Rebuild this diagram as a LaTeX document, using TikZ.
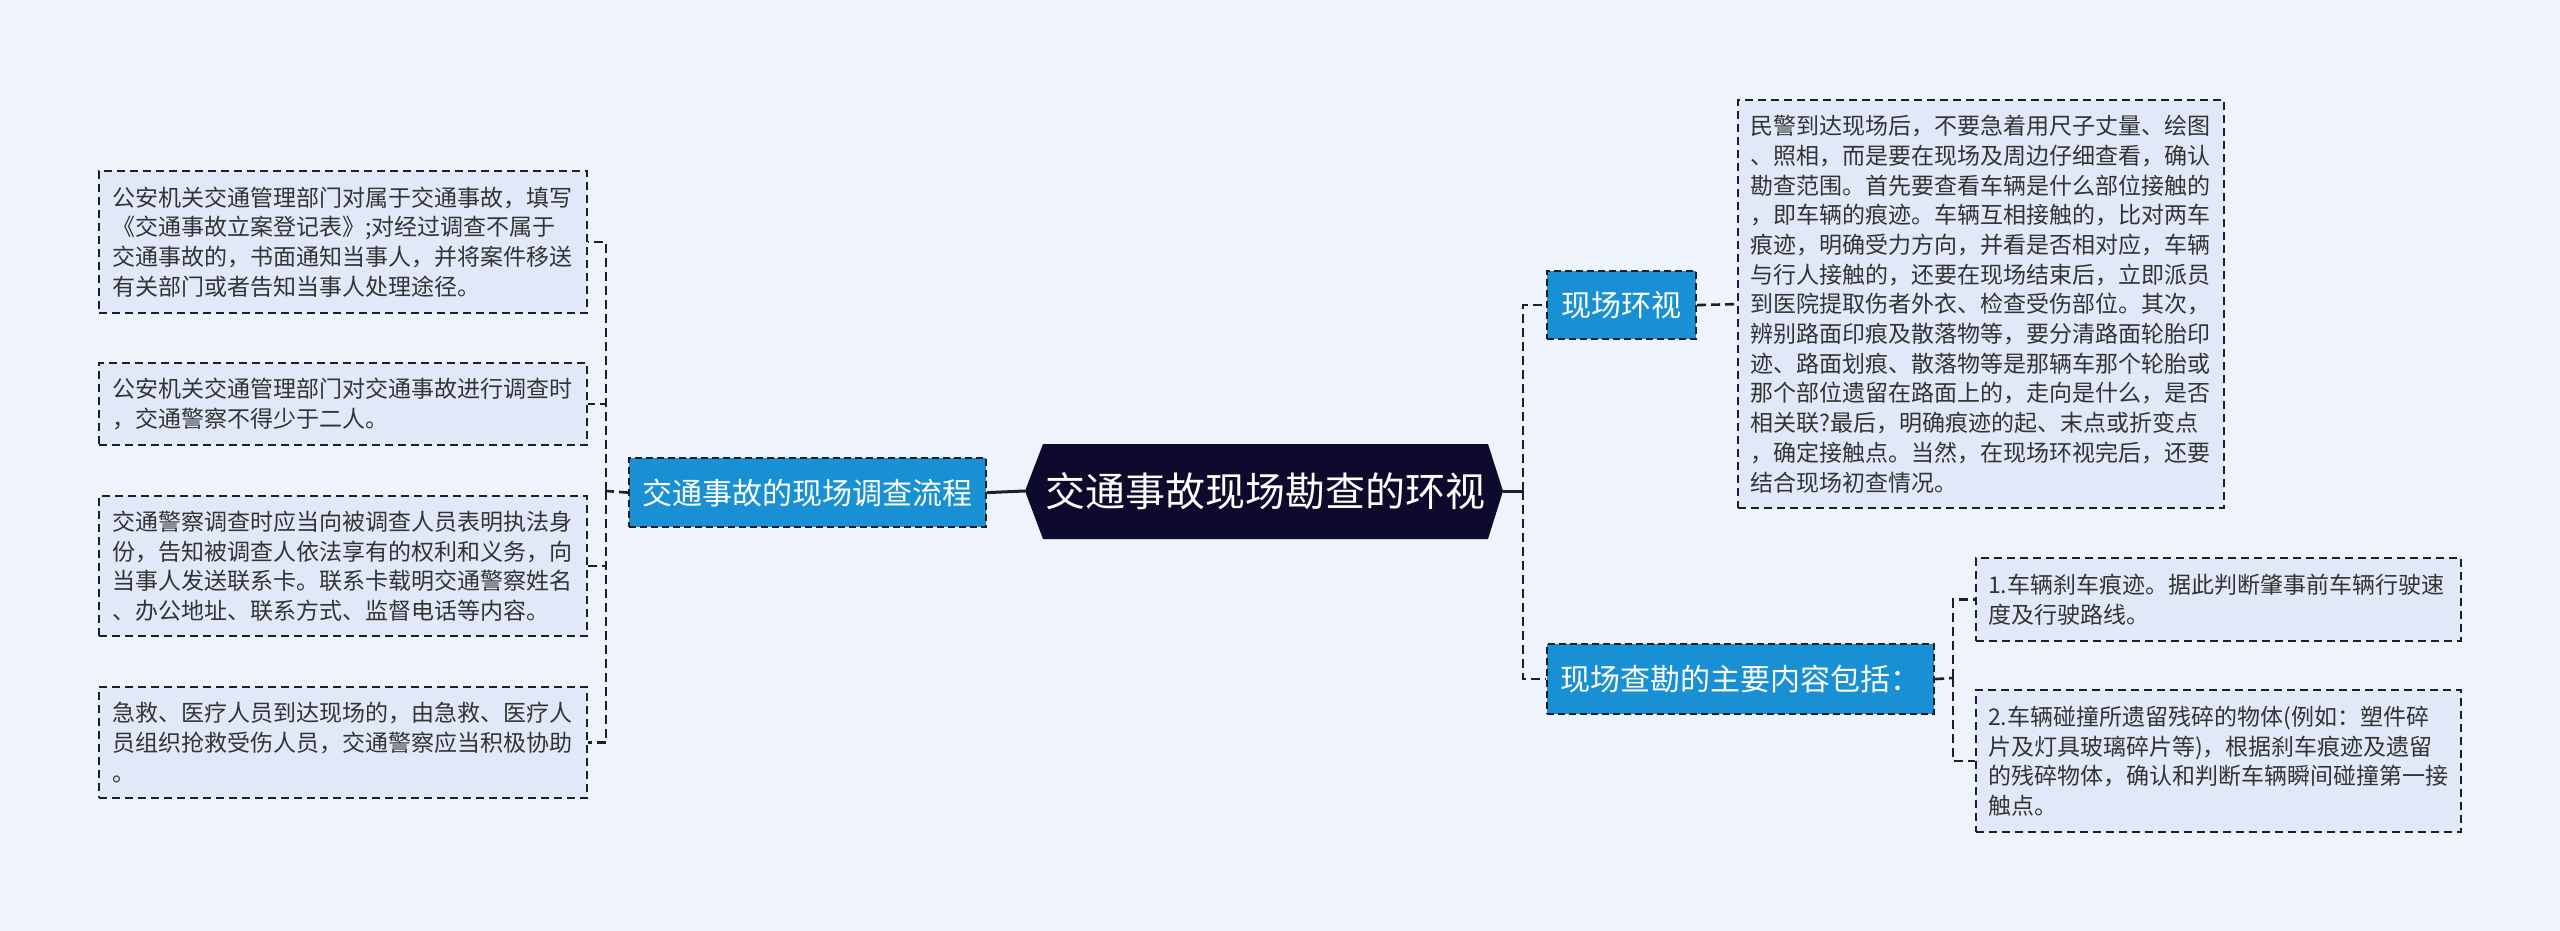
\documentclass[tikz,border=0pt]{standalone}
\usepackage{fontspec}
\newfontfamily\cjk{Noto Sans CJK SC}
\definecolor{bg}{HTML}{EEF3FC}
\definecolor{leaffill}{HTML}{E1E9F9}
\definecolor{branchfill}{HTML}{1890D3}
\definecolor{navy}{HTML}{0D0A2D}
\definecolor{dk}{HTML}{1E1E2A}
\definecolor{txt}{HTML}{333333}
\begin{document}
\begin{tikzpicture}[x=1pt,y=-1pt,
  dline/.style={draw=dk,line width=2.6pt,dash pattern=on 9pt off 5pt},
  sline/.style={draw=dk,line width=3pt},
  leaf/.style={draw=dk,line width=2.2pt,dash pattern=on 8pt off 5pt,fill=leaffill,text=txt,
    font=\cjk\fontsize{23}{29.7}\selectfont,align=left,inner xsep=13pt,inner ysep=0pt,anchor=north west},
  branch/.style={draw=dk,line width=2.2pt,dash pattern=on 7pt off 4pt,fill=branchfill,text=white,
    font=\cjk\fontsize{30}{36}\selectfont,inner sep=0pt,anchor=north west},
  ctext/.style={text=white,font=\cjk\fontsize{40}{48}\selectfont,inner sep=0pt}
]
\fill[bg] (0,0) rectangle (2560,931);
\useasboundingbox (0,0) rectangle (2560,931);

% center
\coordinate (cw) at (1025,491);
\coordinate (ce) at (1503,491);
\fill[navy] (cw) -- (1043,444) -- (1488,444) -- (ce) -- (1488,539) -- (1043,539) -- cycle;
\node[ctext] (c) at (1265,491) {交通事故现场勘查的环视};

% left branch
\node[branch,minimum width=357pt,minimum height=69pt] (L) at (628,457) {交通事故的现场调查流程};

\node[leaf,text width=462pt,minimum height=142pt] (l1) at (98,170) {公安机关交通管理部门对属于交通事故，填写\\《交通事故立案登记表》;对经过调查不属于\\交通事故的，书面通知当事人，并将案件移送\\有关部门或者告知当事人处理途径。};
\node[leaf,text width=462pt,minimum height=82pt] (l2) at (98,362) {公安机关交通管理部门对交通事故进行调查时\\，交通警察不得少于二人。};
\node[leaf,text width=462pt,minimum height=140pt] (l3) at (98,495) {交通警察调查时应当向被调查人员表明执法身\\份，告知被调查人依法享有的权利和义务，向\\当事人发送联系卡。联系卡载明交通警察姓名\\、办公地址、联系方式、监督电话等内容。};
\node[leaf,text width=462pt,minimum height=111pt] (l4) at (98,686) {急救、医疗人员到达现场的，由急救、医疗人\\员组织抢救受伤人员，交通警察应当积极协助\\。};

% right branches
\node[branch,minimum width=149pt,minimum height=68pt] (R1) at (1546,270) {现场环视};
\node[branch,minimum width=387pt,minimum height=70pt] (R2) at (1546,643) {现场查勘的主要内容包括：};

\node[leaf,inner xsep=12pt,text width=462pt,minimum height=408pt] (big) at (1737,99) {民警到达现场后，不要急着用尺子丈量、绘图\\、照相，而是要在现场及周边仔细查看，确认\\勘查范围。首先要查看车辆是什么部位接触的\\，即车辆的痕迹。车辆互相接触的，比对两车\\痕迹，明确受力方向，并看是否相对应，车辆\\与行人接触的，还要在现场结束后，立即派员\\到医院提取伤者外衣、检查受伤部位。其次，\\辨别路面印痕及散落物等，要分清路面轮胎印\\迹、路面划痕、散落物等是那辆车那个轮胎或\\那个部位遗留在路面上的，走向是什么，是否\\相关联?最后，明确痕迹的起、末点或折变点\\，确定接触点。当然，在现场环视完后，还要\\结合现场初查情况。};

\node[leaf,inner xsep=12pt,text width=461pt,minimum height=83pt] (s1) at (1975,557) {1.车辆刹车痕迹。据此判断肇事前车辆行驶速\\度及行驶路线。};
\node[leaf,inner xsep=12pt,text width=461pt,minimum height=142pt] (s2) at (1975,689) {2.车辆碰撞所遗留残碎的物体(例如：塑件碎\\片及灯具玻璃碎片等)，根据刹车痕迹及遗留\\的残碎物体，确认和判断车辆瞬间碰撞第一接\\触点。};

% connectors
\coordinate (lj) at (606,491);
\coordinate (rj) at (1523,491);
\coordinate (sj) at (1953,678);

\draw[sline] (cw) -- (L.east);
\draw[dline] (L.west) -- (lj);
\draw[dline] (lj) |- (l1.east);
\draw[dline] (lj) |- (l2.east);
\draw[dline] (lj) |- (l3.east);
\draw[dline] (lj) |- (l4.east);

\draw[sline] (ce) -- (rj);
\draw[dline] (rj) |- (R1.west);
\draw[dline] (rj) |- (R2.west);
\draw[dline] (R1.east) -- (big.west);
\draw[dline] (R2.east) -- (sj);
\draw[dline] (sj) |- (s1.west);
\draw[dline] (sj) |- (s2.west);
\end{tikzpicture}
\end{document}
